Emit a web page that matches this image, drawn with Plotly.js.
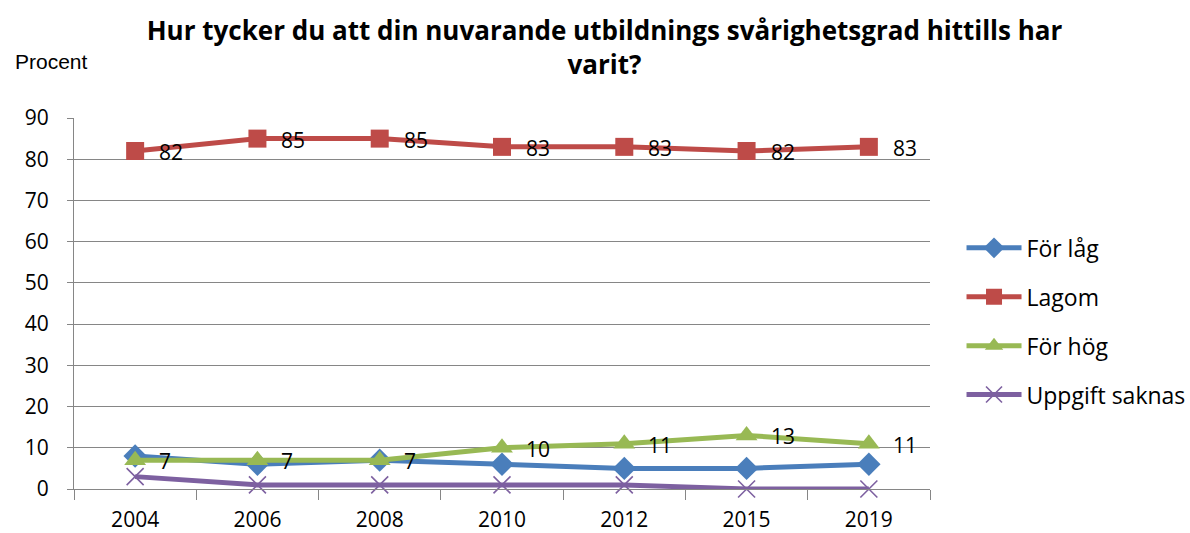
<!DOCTYPE html>
<html>
<head>
<meta charset="utf-8">
<script src="https://cdn.plot.ly/plotly-3.0.1.min.js"></script>
<style>html,body{margin:0;padding:0;background:#fff}#chart{width:1190px;height:533px}</style>
</head>
<body>
<div id="chart"></div>
<script>
const years = ["2004","2006","2008","2010","2012","2015","2019"];
const forLag = [8, 6, 7, 6, 5, 5, 6];
const lagom = [82, 85, 85, 83, 83, 82, 83];
const forHog = [7, 7, 7, 10, 11, 13, 11];
const saknas = [3, 1, 1, 1, 1, 0, 0];
const seriesNames = ["För låg", "Lagom", "För hög", "Uppgift saknas"];
const yTicks = [0,10,20,30,40,50,60,70,80,90];

const colors = ["#4a7ebb", "#be4b48", "#98b954", "#7d60a0"];
const FONT = "Open Sans, sans-serif";

function tr(name, y, color, marker, grp) {
  return {
    type: "scatter", mode: "lines+markers", name: name, x: years, y: y,
    line: {color: color, width: 5},
    marker: marker, legendgroup: grp, cliponaxis: false
  };
}

const data = [
  tr(seriesNames[0], forLag, colors[0], {symbol: "diamond", size: 18, color: colors[0]}, "a"),
  tr(seriesNames[1], lagom, colors[1], {symbol: "square", size: 18, color: colors[1]}, "b"),
  tr(seriesNames[2], forHog, colors[2], {symbol: "triangle-up", size: 19, color: colors[2]}, "c"),
  tr(seriesNames[3], saknas, colors[3], {symbol: "x-thin", size: 17, color: colors[3], line: {color: colors[3], width: 1.6}}, "d")
];

const annotations = [];
[lagom, forHog].forEach(arr => {
  arr.forEach((v, i) => {
    annotations.push({
      x: i, y: v, xref: "x", yref: "y", text: String(v),
      showarrow: false, xanchor: "left", yanchor: "middle", xshift: 22, yshift: -1,
      font: {family: FONT, size: 21, color: "#000"}
    });
  });
});
annotations.push({
  xref: "paper", yref: "paper", x: -0.071, y: 1.151, xanchor: "left", yanchor: "middle",
  text: "Procent", showarrow: false,
  font: {family: "Liberation Sans, Arial, sans-serif", size: 21, color: "#000"}
});

const layout = {
  width: 1190, height: 533,
  margin: {l: 74, r: 260, t: 118, b: 44},
  paper_bgcolor: "#fff", plot_bgcolor: "#fff",
  title: {
    text: "<b>Hur tycker du att din nuvarande utbildnings svårighetsgrad hittills har<br>varit?</b>",
    x: 0.508, xanchor: "center", y: 0.925, yanchor: "top",
    font: {family: FONT, size: 26, color: "#000"}
  },
  xaxis: {
    type: "category", range: [-0.5, 6.5], tickson: "boundaries",
    ticks: "outside", ticklen: 10, tickcolor: "#868686",
    showline: true, linecolor: "#868686", linewidth: 1,
    showgrid: false, zeroline: false, ticklabelstandoff: 12,
    tickfont: {family: FONT, size: 21, color: "#000"}
  },
  yaxis: {
    range: [0, 90], tickvals: yTicks, ticktext: yTicks.map(String),
    ticks: "outside", ticklen: 6, tickcolor: "#868686",
    showline: true, linecolor: "#868686", linewidth: 1,
    showgrid: true, gridcolor: "#868686", gridwidth: 1, zeroline: false,
    ticklabelstandoff: 14,
    tickfont: {family: FONT, size: 21, color: "#000"}
  },
  legend: {
    xref: "container", yref: "container",
    x: 0.808, xanchor: "left", y: 0.397, yanchor: "middle",
    traceorder: "grouped", tracegroupgap: 16, itemwidth: 55,
    font: {family: FONT, size: 23, color: "#000"},
    bgcolor: "rgba(0,0,0,0)"
  },
  annotations: annotations,
  showlegend: true
};

Plotly.newPlot("chart", data, layout, {displayModeBar: false, staticPlot: true});
</script>
</body>
</html>
